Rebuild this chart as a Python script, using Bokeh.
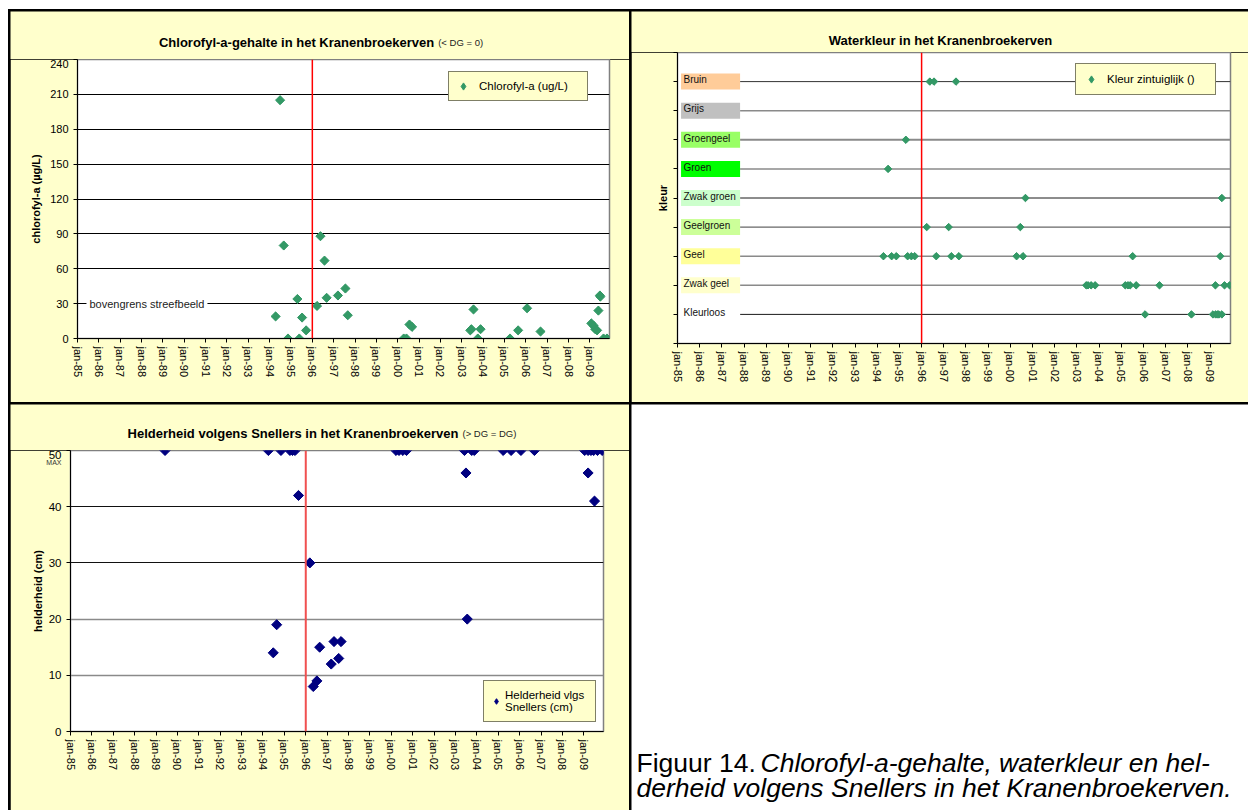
import math
from bokeh.plotting import figure
from bokeh.models import (Range1d, FixedTicker, Span, Label, Legend, LegendItem,
                          ColumnDataSource, LinearAxis, Grid)
from bokeh.layouts import column, row
from bokeh.embed import file_html
from bokeh.resources import INLINE
from bokeh.core.properties import value

FONT = "Liberation Sans"
PANEL = "#FFFFCC"
X_START, X_END = 1985.0, 2009.92

# ---------------- data ----------------
tick_years = [1985, 1986, 1987, 1988, 1989, 1990, 1991, 1992, 1993, 1994, 1995, 1996,
              1997, 1998, 1999, 2000, 2001, 2002, 2003, 2004, 2005, 2006, 2007, 2008, 2009]
tick_labels = ["jan-85", "jan-86", "jan-87", "jan-88", "jan-89", "jan-90", "jan-91", "jan-92",
               "jan-93", "jan-94", "jan-95", "jan-96", "jan-97", "jan-98", "jan-99", "jan-00",
               "jan-01", "jan-02", "jan-03", "jan-04", "jan-05", "jan-06", "jan-07", "jan-08", "jan-09"]

chl_dates = [1994.28, 1994.49, 1994.66, 1994.86, 1995.30, 1995.39, 1995.52, 1995.71,
             1996.22, 1996.38, 1996.57, 1996.67, 1997.20, 1997.55, 1997.66,
             2000.28, 2000.41, 2000.55, 2000.67,
             2003.40, 2003.45, 2003.55, 2003.75, 2003.88,
             2005.26, 2005.64, 2006.06, 2006.69,
             2009.07, 2009.18, 2009.25, 2009.34, 2009.40, 2009.47, 2009.49, 2009.64, 2009.80]
chl_values = [19, 205, 80, 0, 34, 0, 18, 7,
              28, 88, 67, 35, 37, 43, 20,
              0, 0, 12, 10,
              7, 8, 25, 0, 8,
              0, 7, 26, 6,
              13, 11, 8, 7, 24, 37, 36, 0, 0]
chl_ticks = [0, 30, 60, 90, 120, 150, 180, 210, 240]
chl_grid = [30, 60, 90, 120, 150, 180, 210]

kleur_categories = ["Kleurloos", "Zwak geel", "Geel", "Geelgroen", "Zwak groen",
                    "Groen", "Groengeel", "Grijs", "Bruin"]
kleur_box_colors = ["#FFFFFF", "#FFFFCC", "#FFFF99", "#CCFF99", "#CCFFCC",
                    "#00FF00", "#99FF66", "#C0C0C0", "#FFCC99"]
kleur_line_colors = ["#1a1a1a", "#8a8a8a", "#8a8a8a", "#404040", "#1a1a1a",
                     "#8a8a8a", "#8a8a8a", "#8a8a8a", "#333333"]
kleur_line_widths = [1, 1.5, 1.5, 1, 1, 1.5, 2, 1.5, 1]

kleur_dates = [1996.37, 1996.56, 1997.55,
               1995.29,
               1994.49,
               2000.68, 2009.53,
               1996.23, 1997.22, 2000.45,
               1994.28, 1994.65, 1994.86, 1995.37, 1995.54, 1995.69, 1996.66, 1997.34,
               1997.68, 2000.28, 2000.57, 2005.51, 2009.46,
               2003.42, 2003.50, 2003.64, 2003.82, 2005.18, 2005.30, 2005.40, 2005.67,
               2006.72, 2009.24, 2009.65, 2009.88,
               2006.07, 2008.16, 2009.13, 2009.25, 2009.33, 2009.40, 2009.53]
kleur_values = ["Bruin", "Bruin", "Bruin",
                "Groengeel",
                "Groen",
                "Zwak groen", "Zwak groen",
                "Geelgroen", "Geelgroen", "Geelgroen",
                "Geel", "Geel", "Geel", "Geel", "Geel", "Geel", "Geel", "Geel",
                "Geel", "Geel", "Geel", "Geel", "Geel",
                "Zwak geel", "Zwak geel", "Zwak geel", "Zwak geel", "Zwak geel", "Zwak geel",
                "Zwak geel", "Zwak geel", "Zwak geel", "Zwak geel", "Zwak geel", "Zwak geel",
                "Kleurloos", "Kleurloos", "Kleurloos", "Kleurloos", "Kleurloos", "Kleurloos",
                "Kleurloos"]

held_dates = [1989.42, 1994.25, 1994.84, 1995.26, 1995.38, 1995.50,
              1994.48, 1994.64, 1995.66, 1996.19, 1996.35, 1996.52, 1996.65,
              1997.19, 1997.32, 1997.54, 1997.65,
              2000.22, 2000.36, 2000.54, 2000.71,
              2003.42, 2003.49, 2003.55, 2003.76, 2003.88,
              2005.23, 2005.60, 2006.06, 2006.69,
              2009.04, 2009.20, 2009.34, 2009.46, 2009.64, 2009.86, 2009.20, 2009.50]
held_values = [50, 50, 50, 50, 50, 50,
               14, 19, 42, 30, 8, 9, 15,
               12, 16, 13, 16,
               50, 50, 50, 50,
               50, 46, 20, 50, 50,
               50, 50, 50, 50,
               50, 50, 50, 50, 50, 50, 46, 41]
held_ticks = [0, 10, 20, 30, 40, 50]
held_grid_dark = [30, 40]
held_grid_light = [10, 20]

reference_year = 1996.0


# ---------------- helpers ----------------
def make_fig(width, height, y_range, left, right, bottom):
    p = figure(width=width, height=height, x_range=Range1d(X_START, X_END), y_range=y_range,
               output_backend="svg", toolbar_location=None, title=None,
               min_border_left=left, min_border_right=right,
               min_border_top=0, min_border_bottom=bottom)
    p.frame_align = False
    p.background_fill_color = "white"
    p.border_fill_color = PANEL
    p.outline_line_color = "#808080"
    p.outline_line_width = 1.5
    p.xgrid.visible = False
    for ax in (p.xaxis[0], p.yaxis[0]):
        ax.axis_line_color = "black"
        ax.axis_line_width = 1
        ax.major_tick_line_color = "black"
        ax.major_tick_in = 0
        ax.major_tick_out = 4
        ax.minor_tick_line_color = None
        ax.major_label_text_font = FONT
        ax.major_label_text_color = "black"
        ax.axis_label_text_font = FONT
        ax.axis_label_text_font_style = "bold"
        ax.axis_label_text_font_size = "11px"
        ax.axis_label_text_color = "black"
    xa = p.xaxis[0]
    xa.ticker = FixedTicker(ticks=tick_years)
    xa.major_label_overrides = {y: l for y, l in zip(tick_years, tick_labels)}
    xa.major_label_orientation = "vertical"
    xa.major_label_text_font_size = "11px"
    xa.major_label_standoff = 4
    return p


def text_fig(width, height, bg):
    t = figure(width=width, height=height, x_range=Range1d(0, width), y_range=Range1d(0, height),
               x_axis_type=None, y_axis_type=None, output_backend="svg", toolbar_location=None,
               title=None, min_border=0)
    t.frame_align = False
    t.outline_line_color = None
    t.background_fill_color = bg
    t.border_fill_color = bg
    return t


def add_title(t, x_bold_end, x_small, y, bold_text, small_text):
    t.add_layout(Label(x=x_bold_end, y=y, text=bold_text, text_align="right", text_baseline="middle",
                       text_font=FONT, text_font_style="bold", text_font_size="13px", text_color="black"))
    t.add_layout(Label(x=x_small, y=y, text=small_text, text_align="left", text_baseline="middle",
                       text_font=FONT, text_font_size="9.5px", text_color="#222222"))


def style_legend(lg, loc, pad, glyph_w, glyph_h, standoff, label_w, label_h):
    lg.location = loc
    lg.background_fill_color = PANEL
    lg.background_fill_alpha = 1
    lg.border_line_color = "black"
    lg.border_line_width = 1.5
    lg.label_text_font = FONT
    lg.label_text_font_size = "11.5px"
    lg.label_text_color = "black"
    lg.padding = pad
    lg.spacing = 0
    lg.margin = 0
    lg.glyph_width = glyph_w
    lg.glyph_height = glyph_h
    lg.label_standoff = standoff
    lg.label_width = label_w
    lg.label_height = label_h


def diamonds(p, xs, ys, size, color):
    """Excel-like square diamonds; a narrower Bokeh diamond underneath serves as legend glyph."""
    key = p.scatter(xs, ys, marker="diamond", size=size, fill_color=color, line_color=color)
    p.scatter(xs, ys, marker="square", angle=math.pi / 4, size=size * 0.85,
              fill_color=color, line_color=color)
    return key


# ---------------- chart 1: chlorofyl ----------------
t1 = text_fig(619, 48, PANEL)
add_title(t1, 423.7, 427.7, 17, "Chlorofyl-a-gehalte in het Kranenbroekerven", "(< DG = 0)")

p1 = make_fig(619, 343, Range1d(0, 240), left=67, right=20, bottom=64)
p1.yaxis.ticker = FixedTicker(ticks=chl_ticks)
p1.yaxis.major_label_text_font_size = "11px"
p1.yaxis.major_label_standoff = 5
p1.yaxis.axis_label = "chlorofyl-a (µg/L)"
p1.yaxis.axis_label_standoff = 5
p1.ygrid.ticker = FixedTicker(ticks=chl_grid)
p1.ygrid.grid_line_color = "black"
p1.ygrid.grid_line_width = 1

p1.add_layout(Label(x=1985.42, y=30, text="bovengrens streefbeeld", text_baseline="middle",
                    text_font=FONT, text_font_size="11px", text_color="#222222",
                    background_fill_color="white", padding=3))
p1.add_layout(Span(location=reference_year, dimension="height", line_color="red", line_width=1.5))
k1 = diamonds(p1, chl_dates, chl_values, 7.6, "#339966")
lg1 = Legend(items=[LegendItem(label="Chlorofyl-a (ug/L)", renderers=[k1])])
style_legend(lg1, (371, 237), 5, 18, 18, 7, 103, 16)
p1.add_layout(lg1)

# ---------------- chart 2: waterkleur ----------------
t2 = text_fig(617, 41, PANEL)
t2.add_layout(Label(x=309, y=12, text="Waterkleur in het Kranenbroekerven", text_align="center",
                    text_baseline="middle", text_font=FONT, text_font_style="bold",
                    text_font_size="13px", text_color="black"))

p2 = make_fig(617, 350, Range1d(0, 10), left=46, right=18, bottom=59)
p2.ygrid.visible = False
p2.yaxis.ticker = FixedTicker(ticks=[0, 1, 2, 3, 4, 5, 6, 7, 8, 9, 10])
p2.yaxis.major_label_overrides = {i: "" for i in range(11)}
p2.yaxis.major_label_standoff = 0
p2.yaxis.axis_label = "kleur"
p2.yaxis.axis_label_standoff = 5

cat_pos = [i + 1 for i in range(len(kleur_categories))]
cat_src = ColumnDataSource(dict(
    y=cat_pos,
    bottom=[v - 0.275 for v in cat_pos],
    top=[v + 0.275 for v in cat_pos],
    ty=[v + 0.06 for v in cat_pos],
    name=kleur_categories,
    fill=kleur_box_colors,
    lc=kleur_line_colors,
    lw=kleur_line_widths,
))
p2.segment(x0=1987.82, x1=X_END, y0="y", y1="y", line_color="lc", line_width="lw", source=cat_src)
p2.quad(left=1985.16, right=1987.82, bottom="bottom", top="top", fill_color="fill",
        line_color=None, source=cat_src)
p2.text(x=1985.27, y="ty", text="name", text_font=value(FONT), text_font_size="10px",
        text_baseline="middle", text_color="#111111", source=cat_src)
p2.add_layout(Span(location=reference_year, dimension="height", line_color="red", line_width=1.5))

cat_index = {c: i + 1 for i, c in enumerate(kleur_categories)}
k2 = diamonds(p2, kleur_dates, [cat_index[v] for v in kleur_values], 6.2, "#339966")
lg2 = Legend(items=[LegendItem(label="Kleur zintuiglijk ()", renderers=[k2])])
style_legend(lg2, (398, 248), 6, 18, 18, 7, 102, 16)
p2.add_layout(lg2)

# ---------------- chart 3: helderheid ----------------
t3 = text_fig(619, 46, PANEL)
add_title(t3, 448, 452, 17.3, "Helderheid volgens Snellers in het Kranenbroekerven", "(> DG = DG)")

p3 = make_fig(619, 360, Range1d(0, 50), left=60, right=26, bottom=79)
p3.yaxis.ticker = FixedTicker(ticks=held_ticks)
p3.yaxis.major_label_text_font_size = "11.5px"
p3.yaxis.major_label_standoff = 5
p3.ygrid.ticker = FixedTicker(ticks=held_grid_dark)
p3.ygrid.grid_line_color = "#111111"
p3.ygrid.grid_line_width = 1
p3.add_layout(Grid(dimension=1, ticker=FixedTicker(ticks=held_grid_light),
                   grid_line_color="#8a8a8a", grid_line_width=1.5))

max_axis = LinearAxis(ticker=FixedTicker(ticks=[47.9]), major_label_overrides={47.9: "MAX"})
max_axis.axis_line_color = None
max_axis.major_tick_line_color = None
max_axis.minor_tick_line_color = None
max_axis.major_tick_in = 0
max_axis.major_tick_out = 0
max_axis.major_label_standoff = -16
max_axis.major_label_text_font = FONT
max_axis.major_label_text_font_size = "7px"
max_axis.major_label_text_color = "#333333"
max_axis.axis_label = "helderheid (cm)"
max_axis.axis_label_standoff = -1
max_axis.axis_label_text_font = FONT
max_axis.axis_label_text_font_style = "bold"
max_axis.axis_label_text_font_size = "11px"
max_axis.axis_label_text_color = "black"
p3.add_layout(max_axis, "left")

p3.add_layout(Span(location=reference_year, dimension="height", line_color="#F05050", line_width=2))
k3 = diamonds(p3, held_dates, held_values, 8.4, "#000080")
lg3 = Legend(items=[LegendItem(label="Helderheid vlgs\nSnellers (cm)", renderers=[k3])])
style_legend(lg3, (413, 9), 5, 14, 16, 2, 85, 30)
p3.add_layout(lg3)

# ---------------- caption ----------------
pc = text_fig(617, 406, "white")
pc.add_layout(Label(x=5, y=48, text="Figuur 14.", text_baseline="middle", text_font=FONT,
                    text_font_size="26.5px", text_color="black"))
pc.add_layout(Label(x=129, y=48, text="Chlorofyl-a-gehalte, waterkleur en hel-",
                    text_baseline="middle", text_font=FONT, text_font_style="italic",
                    text_font_size="26.5px", text_color="black"))
pc.add_layout(Label(x=5, y=23, text="derheid volgens Snellers in het Kranenbroekerven.",
                    text_baseline="middle", text_font=FONT, text_font_style="italic",
                    text_font_size="26.5px", text_color="black"))

layout = column(
    row(column(t1, p1, spacing=0), column(t2, p2, spacing=0), spacing=2),
    row(column(t3, p3, spacing=0), pc, spacing=2),
    spacing=2,
    styles={"background-color": "black", "padding-left": "2px", "padding-top": "2px",
            "margin-left": "8px", "margin-top": "9px"},
)

open("out.html", "w").write(file_html(layout, INLINE))
